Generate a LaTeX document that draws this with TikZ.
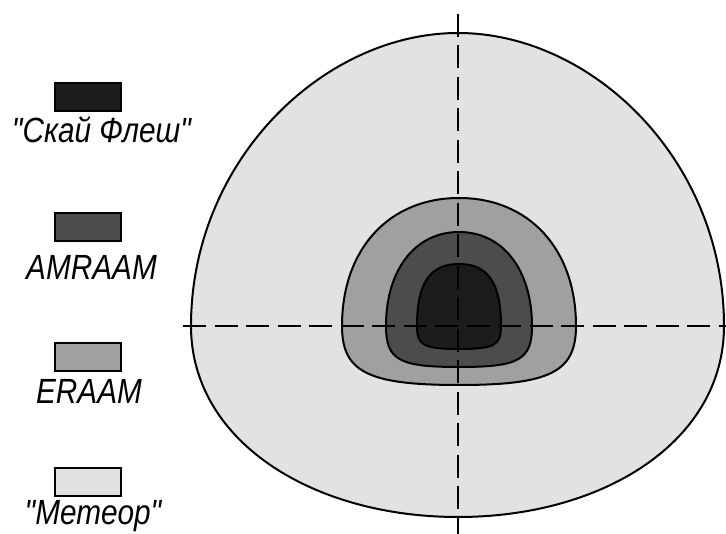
\documentclass[tikz,border=0pt]{standalone}
\usepackage{fontspec}
\newfontfamily\legfont{Liberation Sans}[FakeStretch=0.85]
\definecolor{cMeteor}{HTML}{E2E2E2}
\definecolor{cEraam}{HTML}{A0A0A0}
\definecolor{cAmraam}{HTML}{4C4C4C}
\definecolor{cSky}{HTML}{1C1C1C}
\begin{document}
\begin{tikzpicture}[x=1pt,y=-1pt,
  zone/.style={draw=black, line width=2pt, line join=round},
  axisline/.style={draw=black, line width=2.3pt, dash pattern=on 23pt off 8.5pt},
  legbox/.style={draw=black, line width=2pt, minimum width=66pt, minimum height=28pt, inner sep=0pt, rectangle},
  legtext/.style={font=\legfont\itshape\fontsize{35}{40}\selectfont, inner sep=0pt, anchor=base, text=black}]
\useasboundingbox (0,0) rectangle (726,534);
% zones
\path[zone, fill=cMeteor] (458,33) .. controls (592,33) and (724,160) .. (724,326)
  .. controls (724,441) and (604,517) .. (458,517)
  .. controls (312,517) and (191,441) .. (191,326)
  .. controls (191,160) and (324,33) .. cycle;
\path[zone, fill=cEraam] (459,198) .. controls (529,198) and (576,249) .. (576,326)
  .. controls (576,372) and (550,385) .. (459,385)
  .. controls (368,385) and (342,372) .. (342,326)
  .. controls (342,249) and (389,198) .. cycle;
\path[zone, fill=cAmraam] (459,232) .. controls (503,232) and (532,270) .. (532,326)
  .. controls (532,360) and (519,367) .. (459,367)
  .. controls (399,367) and (386,360) .. (386,326)
  .. controls (386,270) and (415,232) .. cycle;
\path[zone, fill=cSky] (459,264) .. controls (488,264) and (501,283) .. (501,326)
  .. controls (501,345) and (495,349) .. (459,349)
  .. controls (423,349) and (417,345) .. (417,326)
  .. controls (417,283) and (430,264) .. cycle;
% axes
\coordinate (vTop) at (458,14);
\coordinate (vBot) at (458,534);
\coordinate (hLeft) at (183,326);
\coordinate (hRight) at (726,326);
\draw[axisline] (vTop) -- (vBot);
\draw[axisline] (hLeft) -- (hRight);
% legend
\node[legbox, fill=cSky] (kSky) at (87.5,97.5) {};
\node[legbox, fill=cAmraam] (kAmraam) at (87.5,227.5) {};
\node[legbox, fill=cEraam] (kEraam) at (87.5,357.5) {};
\node[legbox, fill=cMeteor] (kMeteor) at (87.5,482) {};
\node[legtext] (tSky) at (101.5,143) {"Скай Флеш"};
\node[legtext] (tAmraam) at (91.5,280) {AMRAAM};
\node[legtext] (tEraam) at (89,404) {ERAAM};
\node[legtext] (tMeteor) at (93,525) {"Метеор"};
\end{tikzpicture}
\end{document}
